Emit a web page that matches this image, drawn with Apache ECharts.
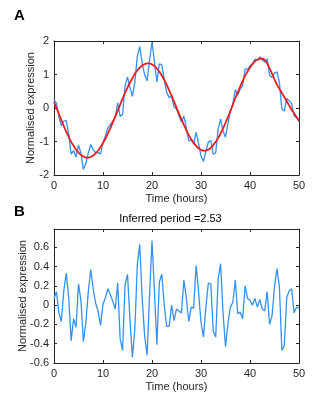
<!DOCTYPE html>
<html>
<head>
<meta charset="utf-8">
<script src="https://cdn.jsdelivr.net/npm/echarts@6/dist/echarts.min.js"></script>
<style>
html,body{margin:0;padding:0;background:#fff;}
#c{width:329px;height:406px;}
</style>
</head>
<body>
<div id="c"></div>
<script>
// Time points (hours)
var times = [0,0.5,1,1.5,2,2.5,3,3.5,4,4.5,5,5.5,6,6.5,7,7.5,8,8.5,9,9.5,10,10.5,11,11.5,12,12.5,13,13.5,14,14.5,15,15.5,16,16.5,17,17.5,18,18.5,19,19.5,20,20.5,21,21.5,22,22.5,23,23.5,24,24.5,25,25.5,26,26.5,27,27.5,28,28.5,29,29.5,30,30.5,31,31.5,32,32.5,33,33.5,34,34.5,35,35.5,36,36.5,37,37.5,38,38.5,39,39.5,40,40.5,41,41.5,42,42.5,43,43.5,44,44.5,45,45.5,46,46.5,47,47.5,48,48.5,49,49.5,50];

// Panel A: measured expression (blue)
var exprA = [0.25,0.14,-0.26,-0.53,-0.39,-0.38,-0.78,-1.38,-1.27,-1.47,-1.11,-1.35,-1.83,-1.66,-1.34,-1.09,-1.25,-1.33,-1.33,-1.37,-1.03,-0.83,-0.59,-0.49,-0.39,-0.29,0.15,-0.25,-0.19,0.66,0.93,0.61,0.35,0.77,1.54,1.83,1.34,0.99,0.81,1.43,1.97,1.39,0.77,1.32,1.29,0.84,0.47,0.31,0.36,0.03,-0.03,-0.23,-0.42,-0.24,-0.58,-0.98,-0.95,-1.07,-0.72,-1.06,-1.43,-1.60,-1.29,-1.01,-0.97,-1.38,-1.34,-0.63,-0.33,-0.69,-0.87,-0.46,-0.11,0.13,0.55,0.38,0.57,0.67,1.16,1.16,1.26,1.31,1.46,1.42,1.53,1.43,1.37,1.47,0.98,0.91,1.04,1.08,0.76,-0.02,-0.09,0.28,0.22,0.12,-0.24,-0.29,-0.41];

// Panel A: fitted curve (red)
var fitA = [0.18,0.00,-0.18,-0.36,-0.54,-0.71,-0.86,-1.01,-1.13,-1.24,-1.33,-1.40,-1.45,-1.48,-1.48,-1.46,-1.42,-1.35,-1.27,-1.16,-1.04,-0.91,-0.76,-0.60,-0.43,-0.25,-0.08,0.10,0.28,0.45,0.61,0.76,0.89,1.02,1.12,1.20,1.27,1.31,1.33,1.33,1.30,1.25,1.18,1.08,0.97,0.84,0.69,0.53,0.36,0.19,0.01,-0.17,-0.34,-0.50,-0.66,-0.81,-0.93,-1.04,-1.13,-1.20,-1.25,-1.27,-1.27,-1.24,-1.19,-1.11,-1.01,-0.90,-0.76,-0.61,-0.44,-0.27,-0.09,0.10,0.29,0.47,0.64,0.81,0.96,1.09,1.21,1.31,1.39,1.44,1.47,1.47,1.43,1.33,1.18,1.02,0.85,0.70,0.57,0.45,0.33,0.20,0.07,-0.05,-0.16,-0.27,-0.38];

// Panel B: residual expression
var exprB = [0.07,0.14,-0.08,-0.17,0.15,0.33,0.08,-0.37,-0.14,-0.23,0.22,0.05,-0.38,-0.18,0.14,0.37,0.17,0.02,-0.06,-0.21,0.01,0.08,0.17,0.11,0.04,-0.04,0.23,-0.35,-0.47,0.21,0.32,-0.15,-0.54,-0.25,0.42,0.63,0.07,-0.32,-0.52,0.10,0.67,0.14,-0.41,0.24,0.32,0.00,-0.22,-0.22,0.00,-0.16,-0.04,-0.06,-0.08,0.26,0.08,-0.17,-0.02,-0.03,0.41,0.14,-0.18,-0.33,-0.02,0.23,0.22,-0.27,-0.33,0.27,0.43,-0.08,-0.43,-0.19,-0.02,0.03,0.26,-0.09,-0.07,-0.14,0.20,0.07,0.05,0.00,0.07,-0.02,0.06,-0.04,-0.06,0.14,-0.20,-0.11,0.19,0.38,0.19,-0.47,-0.42,0.08,0.15,0.17,-0.08,-0.02,-0.03];

var xTicks = [0,10,20,30,40,50];
var yTicksA = [-2,-1,0,1,2];
var yTicksB = [-0.6,-0.4,-0.2,0,0.2,0.4,0.6];
var titleB = 'Inferred period =2.53';
var xName = 'Time (hours)';
var yName = 'Normalised expression';

function pairs(xs, ys){ var out=[]; for(var i=0;i<xs.length;i++) out.push([xs[i], ys[i]]); return out; }

var FONT = "'Liberation Sans', Arial, sans-serif";
var AX = '#262626';

function xAx(gi, top){
  return {
    type:'value', gridIndex:gi, min:0, max:50, interval:10,
    position: top ? 'top' : 'bottom',
    name: top ? '' : xName, nameLocation:'middle', nameGap:18, nameMoveOverlap:false,
    nameTextStyle:{color:AX, fontSize:11, fontFamily:FONT},
    axisLine:{show:true, onZero:false, lineStyle:{color:AX, width:1}},
    axisTick:{show:true, inside:true, length:3, lineStyle:{color:AX}},
    axisLabel:{show:!top, color:AX, fontSize:11, fontFamily:FONT, margin:5},
    splitLine:{show:false}
  };
}
function yAx(gi, right, min, max, interval, gap){
  return {
    type:'value', gridIndex:gi, min:min, max:max, interval:interval,
    position: right ? 'right' : 'left',
    name: right ? '' : yName, nameLocation:'middle', nameGap:gap, nameMoveOverlap:false,
    nameTextStyle:{color:AX, fontSize:11, fontFamily:FONT},
    axisLine:{show:true, onZero:false, lineStyle:{color:AX, width:1}},
    axisTick:{show:true, inside:true, length:3, lineStyle:{color:AX}},
    axisLabel:{show:!right, color:AX, fontSize:11, fontFamily:FONT, margin:5, showMaxLabel: (gi===0),
      formatter:function(v){ var r=Math.round(v*10)/10; if (Math.abs(v*5-Math.round(v*5))>1e-6) return ''; return String(r); }},
    splitLine:{show:false}
  };
}

var chart = echarts.init(document.getElementById('c'), null, {renderer:'canvas'});
chart.setOption({
  animation:false,
  backgroundColor:'#ffffff',
  textStyle:{fontFamily:FONT},
  graphic:[
    {type:'text', left:14, top:8, style:{text:'A', font:"bold 15px 'Liberation Sans', Arial, sans-serif", fill:'#000'}},
    {type:'text', left:14, top:204, style:{text:'B', font:"bold 15px 'Liberation Sans', Arial, sans-serif", fill:'#000'}},
    {type:'text', x:170.5, y:219, style:{text:titleB, font:"11px 'Liberation Sans', Arial, sans-serif", fill:'#000', align:'center', verticalAlign:'middle'}}
  ],
  grid:[
    {left:54, top:41, width:245, height:134},
    {left:54, top:229, width:245, height:134}
  ],
  xAxis:[xAx(0,false), xAx(0,true), xAx(1,false), xAx(1,true)],
  yAxis:[yAx(0,false,-2,2,1,18), yAx(0,true,-2,2,1,0), yAx(1,false,-0.6,0.79,0.2,26), yAx(1,true,-0.6,0.79,0.2,0)],
  series:[
    {type:'line', xAxisIndex:0, yAxisIndex:0, data:pairs(times, exprA), showSymbol:false, symbol:'none',
      lineStyle:{color:'#3391f2', width:1.3}},
    {type:'line', xAxisIndex:0, yAxisIndex:0, data:pairs(times, fitA), showSymbol:false, symbol:'none', smooth:true,
      lineStyle:{color:'#f01c1c', width:1.8}},
    {type:'line', xAxisIndex:2, yAxisIndex:2, data:pairs(times, exprB), showSymbol:false, symbol:'none',
      lineStyle:{color:'#3391f2', width:1.3}}
  ]
});
</script>
</body>
</html>
